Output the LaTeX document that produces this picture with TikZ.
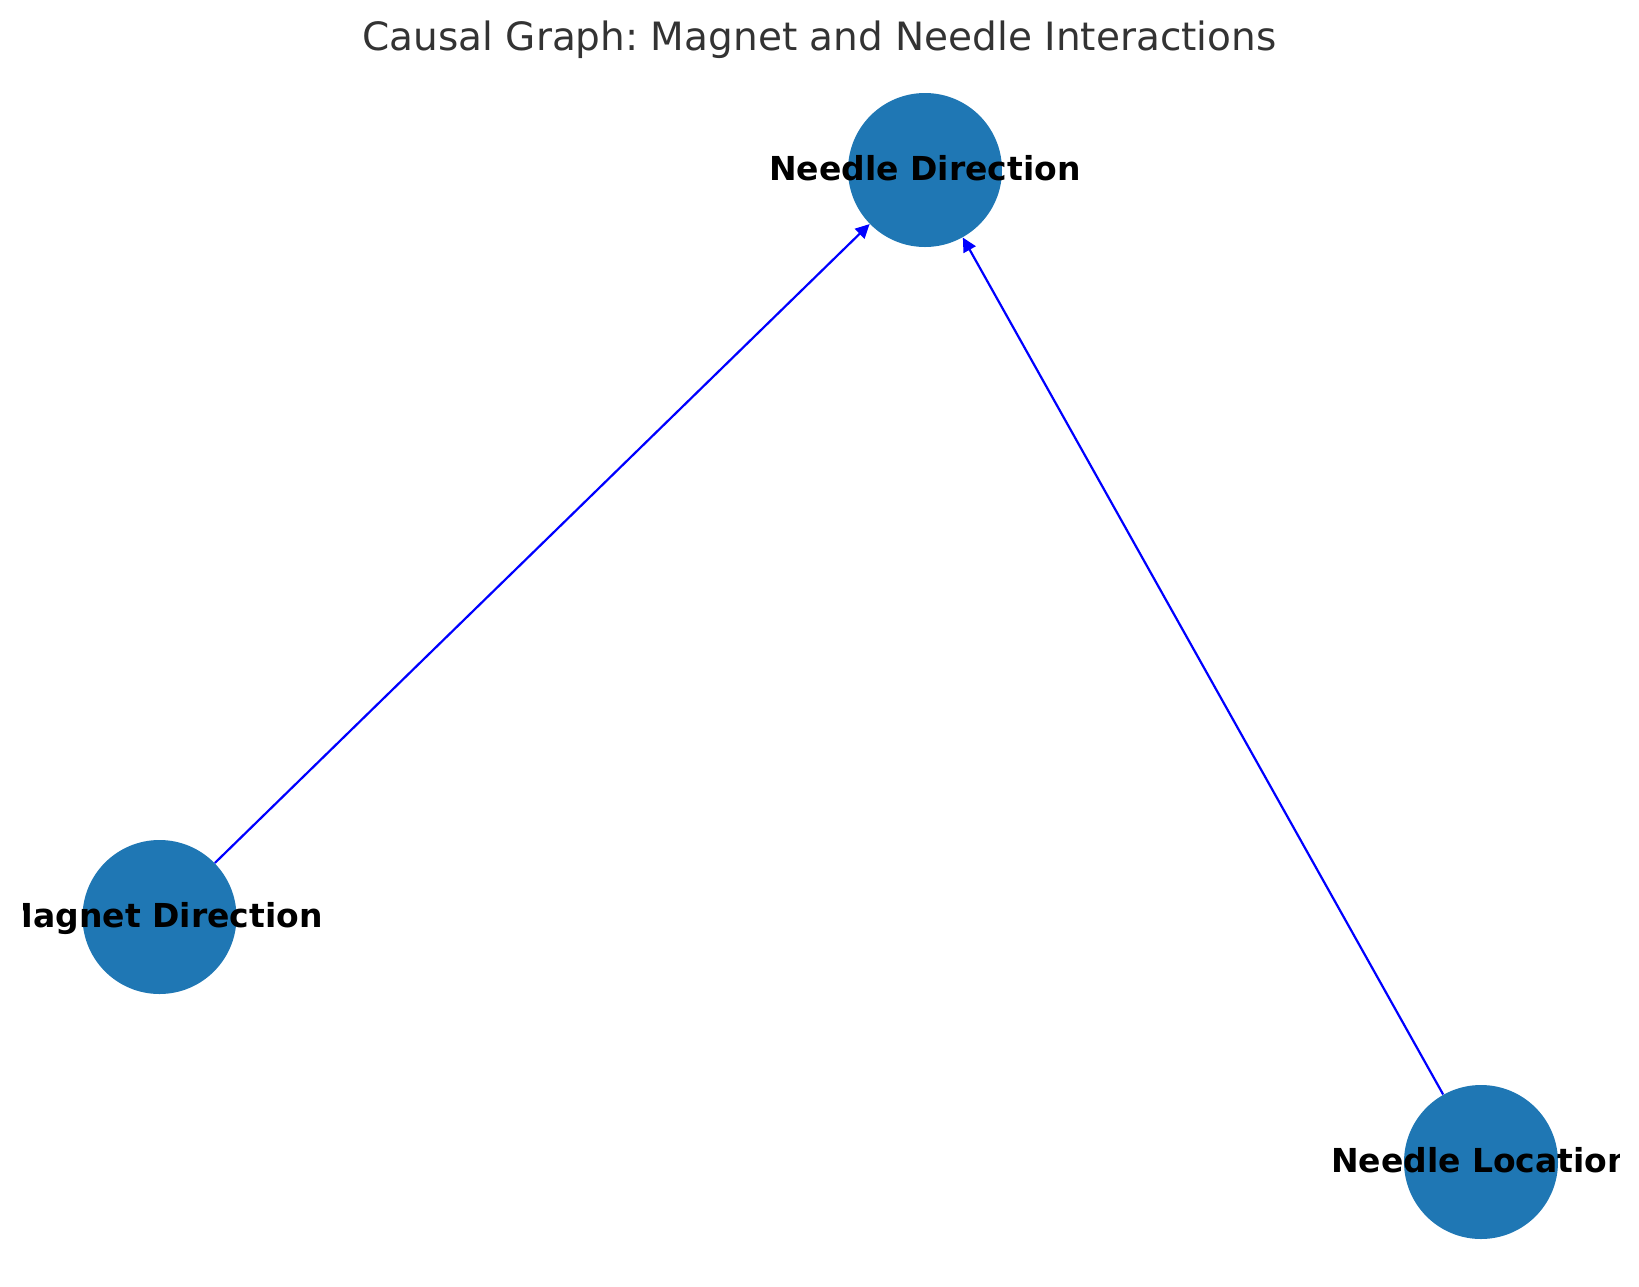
\documentclass[tikz,border=0pt]{standalone}
\usepackage{fontspec}
\setmainfont{DejaVu Sans}
\usetikzlibrary{arrows.meta}
\definecolor{nodeblue}{HTML}{1F77B4}
\definecolor{titlegray}{HTML}{333333}
\tikzset{
  var/.style={circle,fill=nodeblue,draw=none,minimum size=77pt,inner sep=0pt},
  varname/.style={anchor=base,font=\fontsize{16.5pt}{18pt}\selectfont\bfseries,text=black,inner sep=0pt},
  cause/.style={draw=blue,line width=1.1pt,-{Triangle[length=7pt,width=6.8pt]}}
}
\begin{document}
\frenchspacing
\begin{tikzpicture}[x=0.5pt,y=-0.5pt]
\useasboundingbox (0,0) rectangle (1639,1286);
\clip (23,0) rectangle (1619.5,1286);
\node[anchor=base,font=\fontsize{19.5pt}{22pt}\selectfont,text=titlegray,inner sep=0pt] (title) at (819.5,50) {Causal Graph: Magnet and Needle Interactions};
\node[var] (nd) at (925,170) {};
\node[var] (md) at (159.5,917) {};
\node[var] (nl) at (1481,1162) {};
\draw[cause] (md) -- (nd);
\draw[cause] (nl) -- (nd);
\node[varname] (ndname) at ([yshift=-5pt]nd.center) {Needle Direction};
\node[varname] (mdname) at ([xshift=1pt,yshift=-5pt]md.center) {Magnet Direction};
\node[varname] (nlname) at ([yshift=-5pt]nl.center) {Needle Location};
\end{tikzpicture}
\end{document}
